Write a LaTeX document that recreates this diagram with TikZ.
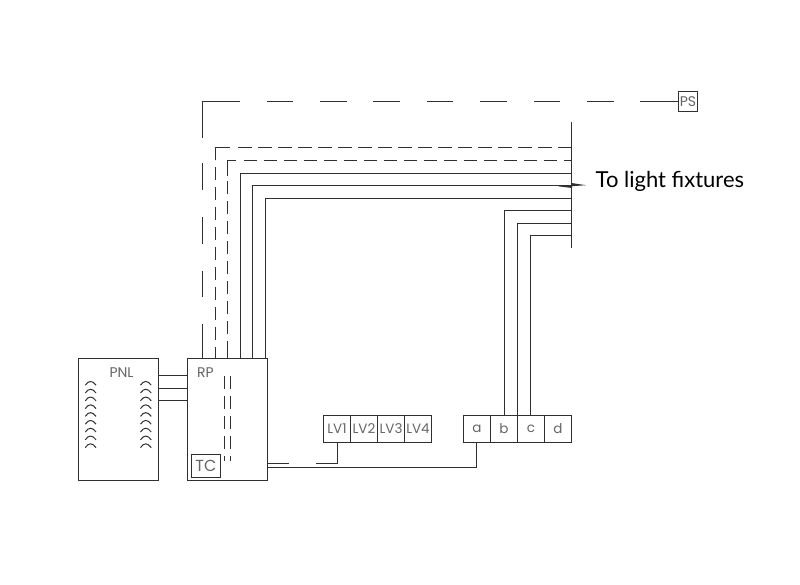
\documentclass[tikz,border=0pt]{standalone}
\usepackage{fontspec}
\setmainfont{Poppins}
\newfontfamily\callfont{Lato}
\definecolor{wire}{HTML}{303030}
\definecolor{lbl}{HTML}{666666}
\begin{document}
\begin{tikzpicture}[x=1pt,y=-1pt,
  wirel/.style={draw=wire,line width=1pt},
  dashl/.style={wirel,dash pattern=on 13.3pt off 6.7pt},
  phantoml/.style={wirel,dash pattern=on 37.7pt off 26.7pt on 26.7pt off 26.7pt on 26.7pt off 26.7pt on 26.7pt off 26.7pt on 26.7pt off 26.7pt on 26.7pt off 26.7pt on 26.7pt off 26.7pt on 26.7pt off 26.7pt on 73.7pt off 25.3pt on 27pt off 27pt on 27pt off 27pt on 26pt off 27pt on 40pt off 10pt},
  panel/.style={wirel,fill=white,minimum width=80pt,minimum height=122pt,inner sep=0pt},
  cell/.style={wirel,minimum width=27pt,minimum height=27pt,inner sep=0pt,text=lbl,font=\fontsize{13.5}{13.5}\selectfont},
  tag/.style={wirel,text=lbl,inner sep=0pt},
  lab/.style={text=lbl,font=\fontsize{14}{14}\selectfont,inner sep=0pt},
  arcmark/.style={draw=wire,line width=1pt}
]
\useasboundingbox (0,0) rectangle (800,584);
\fill[white] (0,0) rectangle (800,584);
% panels
\node[panel] (pnl) at (118.5,419.5) {};
\node[panel] (rp) at (227.5,419.5) {};
\node[lab] (pnlt) at (121.5,373) {PNL};
\node[lab] (rpt) at (205.5,373) {RP};
\node[tag,minimum width=29pt,minimum height=23pt,font=\fontsize{16}{16}\selectfont] (tc) at (206,466) {TC};
\node[tag,minimum width=19pt,minimum height=20pt,font=\fontsize{14}{14}\selectfont] (ps) at (688,101.5) {PS};
% cells
\node[cell] (lv1) at (337,429) {LV1};
\node[cell] (lv2) at (364,429) {LV2};
\node[cell] (lv3) at (391,429) {LV3};
\node[cell] (lv4) at (418,429) {LV4};
\node[cell] (a) at (477,429) {a};
\node[cell] (b) at (504,429) {b};
\node[cell] (c) at (531,429) {c};
\node[cell] (d) at (558,429) {d};
% helper coordinates
\coordinate (bustop) at (571.5,122);
\coordinate (busend) at (571.5,248);
\foreach \nm/\xx in {v0/202.5,v1/215.5,v2/227.5,v3/240.5,v4/252.5,v5/265.5,w1/504.5,w2/517.5,w3/530.5,u1/337.5,u2/476.5}
  \coordinate (\nm) at (\xx,0);
\foreach \nm/\yy in {h0/101.5,h1/147.5,h2/160.5,h3/173.5,h4/185.5,h5/198.5,k1/210.5,k2/223.5,k3/235.5,f1/375.5,f2/388.5,f3/400.5,t1/463.5,t2/467.5}
  \coordinate (\nm) at (0,\yy);
% arcs
\foreach \n in {0,...,8}{
  \pgfmathsetmacro{\yb}{385.2+7.8*\n}
  \pgfmathsetmacro{\yc}{380.2+7.8*\n}
  \draw[arcmark] (85.3,\yb) .. controls (88.5,\yc) and (92.5,\yc) .. (96,\yb);
  \draw[arcmark] (140.5,\yb) .. controls (143.7,\yc) and (147.7,\yc) .. (151.2,\yb);
}
% feeders
\draw[wirel] (pnl.east |- f1) -- (rp.west |- f1);
\draw[wirel] (pnl.east |- f2) -- (rp.west |- f2);
\draw[wirel] (pnl.east |- f3) -- (rp.west |- f3);
% dashed inside RP
\draw[dashl] (224.5,376) -- (224.5,461);
\draw[dashl] (230.5,376) -- (230.5,461);
% bus
\draw[wirel] (bustop) -- (busend);
% risers
\draw[phantoml] (ps.west) -- (v0 |- h0) -- (v0 |- rp.north);
\draw[dashl,dash phase=2pt] (v1 |- rp.north) -- (215.5,160);
\draw[wirel] (215.5,159.7) -- (v1 |- h1) -- (230,147.5);
\draw[dashl] (bustop |- h1) -- (237,147.5);
\draw[dashl] (227.5,354) -- (227.5,176);
\draw[wirel] (v2 |- rp.north) -- (227.5,354);
\draw[wirel] (227.5,176) -- (v2 |- h2) -- (236.3,160.5);
\draw[dashl,dash phase=5.3pt] (bustop |- h2) -- (243,160.5);
\draw[wirel] (v3 |- rp.north) -- (v3 |- h3) -- (bustop |- h3);
\draw[wirel] (v4 |- rp.north) -- (v4 |- h4) -- (bustop |- h4);
\draw[wirel] (v5 |- rp.north) -- (v5 |- h5) -- (bustop |- h5);
% lower
\draw[wirel] (w1 |- b.north) -- (w1 |- k1) -- (bustop |- k1);
\draw[wirel] (w2 |- b.north) -- (w2 |- k2) -- (bustop |- k2);
\draw[wirel] (w3 |- b.north) -- (w3 |- k3) -- (bustop |- k3);
% to cells
\draw[wirel,dash pattern=on 21pt off 27pt on 200pt off 0pt] (rp.east |- t1) -- (u1 |- t1) -- (u1 |- lv1.south);
\draw[wirel] (rp.east |- t2) -- (u2 |- t2) -- (u2 |- a.south);
% break mark
\fill[wire] (558,186.3) -- (571.5,185.4) -- (571.5,183) -- (586,185.2) -- (572.2,186.2) -- (572.2,188) -- cycle;
\node[font=\callfont\fontsize{22}{22}\selectfont,text=black,anchor=west,inner sep=0pt] (to) at (595.5,181) {To light fixtures};
\end{tikzpicture}
\end{document}
